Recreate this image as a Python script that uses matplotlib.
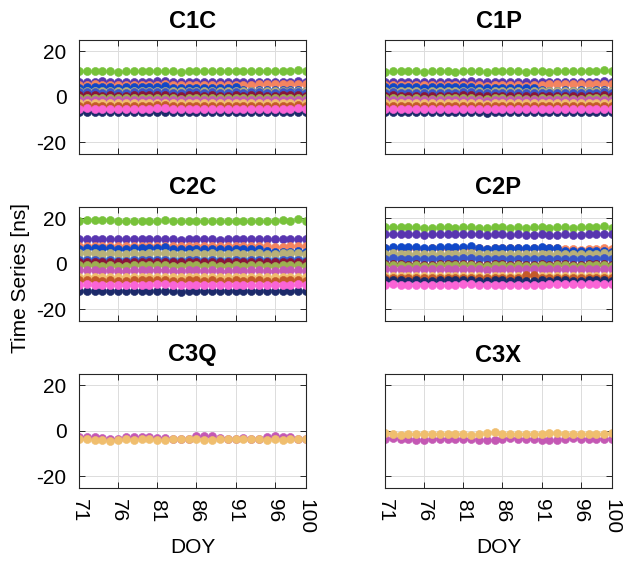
import matplotlib
matplotlib.use("Agg")
import matplotlib.pyplot as plt

plt.rcParams["font.family"] = ["Liberation Sans", "DejaVu Sans"]
plt.rcParams["axes.unicode_minus"] = False

doy = list(range(71, 101))
panel_titles = ["C1C", "C1P", "C2C", "C2P", "C3Q", "C3X"]
x_ticks = [71, 76, 81, 86, 91, 96, 100]
y_ticks = [-20, 0, 20]

# satellite colours, in drawing order
sat_colors = ["#77C23A", "#5835B0", "#F4845F", "#1048C8", "#5AA8E6", "#B8B078",
              "#3A55C8", "#8A1538", "#9DB050", "#C458B4", "#F0BE6E", "#C45A2A",
              "#1C2A6A", "#FA64D6"]

c1c = [
    [11.2,11.4,11.5,11.5,11.4,11.1,11.2,11.3,11.3,11.2,11.4,11.5,11.2,11.1,11.3,11.4,11.2,11.3,11.2,11.3,11.4,11.2,11.3,11.4,11.2,11.3,11.5,11.4,11.8,11.2],
    [6.6,6.7,6.7,6.8,6.7,6.5,6.6,6.7,6.6,6.6,6.8,6.9,6.6,6.5,6.7,6.7,6.6,6.7,6.5,6.6,6.7,6.6,6.6,6.7,6.6,6.6,6.7,6.7,6.9,6.7],
    [5.2,5.3,5.4,5.3,5.3,5.1,5.2,5.3,5.2,5.2,5.3,5.4,5.2,5.0,5.2,5.2,5.1,5.2,5.0,5.1,5.2,5.1,5.2,5.5,5.6,5.5,5.6,5.7,5.8,5.6],
    [4.0,4.4,4.3,4.3,4.3,4.0,4.1,4.3,4.3,4.3,4.4,4.6,3.8,3.7,3.9,3.9,3.8,4.0,3.9,4.0,4.1,3.0,2.7,2.8,2.8,2.9,2.8,2.9,3.1,2.6],
    [1.1,1.2,1.1,1.0,1.1,1.0,1.0,1.1,1.0,1.1,1.2,1.2,1.0,0.9,1.1,1.1,1.0,1.1,1.0,1.0,1.1,1.0,1.1,1.1,1.0,1.0,1.1,1.1,1.2,1.0],
    [2.6,2.7,2.6,2.5,2.6,2.4,2.5,2.6,2.5,2.6,2.7,2.7,2.5,2.4,2.5,2.6,2.5,2.6,2.4,2.5,2.6,2.5,2.5,2.6,2.5,2.5,2.6,2.6,2.7,2.5],
    [1.9,2.0,1.9,1.8,1.9,1.8,1.8,1.9,1.9,1.9,2.0,2.0,1.8,1.7,1.9,1.9,1.8,1.9,1.8,1.8,1.9,1.8,1.9,1.9,1.8,1.8,1.9,1.9,2.0,1.8],
    [0.6,0.7,0.6,0.5,0.6,0.5,0.5,0.6,0.6,0.6,0.7,0.7,0.5,0.4,0.6,0.6,0.5,0.6,0.5,0.5,0.6,0.5,0.6,0.6,0.5,0.5,0.6,0.6,0.7,0.5],
    [-0.6,-0.5,-0.6,-0.7,-0.6,-0.7,-0.7,-0.6,-0.6,-0.6,-0.5,-0.5,-0.7,-0.8,-0.6,-0.6,-0.7,-0.6,-0.7,-0.7,-0.6,-0.7,-0.6,-0.6,-0.7,-0.7,-0.6,-0.6,-0.5,-0.7],
    [-1.4,-1.3,-1.4,-1.5,-1.4,-1.5,-1.5,-1.4,-1.4,-1.4,-1.3,-1.3,-1.5,-1.6,-1.4,-1.4,-1.5,-1.4,-1.5,-1.5,-1.4,-1.5,-1.4,-1.4,-1.5,-1.5,-1.4,-1.4,-1.3,-1.5],
    [-2.7,-2.6,-2.7,-2.8,-2.7,-2.8,-2.8,-2.7,-2.7,-2.7,-2.6,-2.6,-2.8,-2.9,-2.7,-2.7,-2.8,-2.7,-2.8,-2.8,-2.7,-2.8,-2.7,-2.7,-2.8,-2.8,-2.7,-2.7,-2.6,-2.8],
    [-3.9,-3.8,-3.9,-4.0,-3.9,-4.0,-4.0,-3.9,-3.9,-3.9,-3.8,-3.8,-4.0,-4.1,-3.9,-3.9,-4.0,-3.9,-4.0,-4.0,-3.9,-4.0,-3.9,-3.9,-4.0,-4.0,-3.9,-3.9,-3.8,-4.0],
    [-6.6,-6.5,-6.6,-6.7,-6.6,-6.7,-6.7,-6.6,-6.6,-6.6,-6.5,-6.5,-6.8,-6.9,-6.6,-6.6,-6.8,-6.6,-6.7,-6.7,-6.6,-6.7,-6.6,-6.6,-6.7,-6.7,-6.6,-6.6,-6.5,-6.7],
    [-5.2,-5.1,-5.2,-5.3,-5.2,-5.3,-5.3,-5.2,-5.2,-5.2,-5.1,-5.1,-5.3,-5.4,-5.2,-5.2,-5.3,-5.2,-5.3,-5.3,-5.2,-5.3,-5.2,-5.2,-5.3,-5.3,-5.2,-5.2,-5.1,-5.3],
]

c1p = [
    [11.1,11.3,11.4,11.4,11.3,11.0,11.2,11.3,11.2,11.1,11.3,11.4,11.2,11.1,11.2,11.3,11.2,11.2,11.1,11.2,11.3,11.1,11.2,11.3,11.2,11.2,11.4,11.3,11.6,11.2],
    [6.5,6.6,6.6,6.7,6.6,6.4,6.5,6.6,6.5,6.5,6.7,6.8,6.5,6.4,6.6,6.6,6.5,6.6,6.4,6.5,6.6,6.5,6.5,6.6,6.5,6.5,6.6,6.6,6.8,6.6],
    [5.1,5.2,5.3,5.2,5.2,5.0,5.1,5.2,5.1,5.1,5.2,5.3,5.1,4.9,5.1,5.1,5.0,5.1,4.9,5.0,5.1,5.5,5.6,5.5,5.6,5.6,5.5,5.6,5.7,5.5],
    [4.1,4.3,4.3,4.2,4.2,3.9,4.1,4.2,4.2,4.2,4.3,4.5,3.9,3.8,3.9,4.0,3.9,4.0,3.9,4.0,3.0,2.7,2.6,2.8,2.7,2.8,2.7,2.8,3.0,2.6],
    [1.0,1.1,1.0,0.9,1.0,0.9,0.9,1.0,0.9,1.0,1.1,1.1,0.9,0.8,1.0,1.0,0.9,1.0,0.9,0.9,1.0,0.9,1.0,1.0,0.9,0.9,1.0,1.0,1.1,0.9],
    [2.5,2.6,2.5,2.4,2.5,2.3,2.4,2.5,2.4,2.5,2.6,2.6,2.4,2.3,2.4,2.5,2.4,2.5,2.3,2.4,2.5,2.4,2.4,2.5,2.4,2.4,2.5,2.5,2.6,2.4],
    [1.8,1.9,1.8,1.7,1.8,1.7,1.7,1.8,1.8,1.8,1.9,1.9,1.7,1.6,1.8,1.8,1.7,1.8,1.7,1.7,1.8,1.7,1.8,1.8,1.7,1.7,1.8,1.8,1.9,1.7],
    [0.5,0.6,0.5,0.4,0.5,0.4,0.4,0.5,0.5,0.5,0.6,0.6,0.4,0.3,0.5,0.5,0.4,0.5,0.4,0.4,0.5,0.4,0.5,0.5,0.4,0.4,0.5,0.5,0.6,0.4],
    [-0.7,-0.6,-0.7,-0.8,-0.7,-0.8,-0.8,-0.7,-0.7,-0.7,-0.6,-0.6,-0.8,-0.9,-0.7,-0.7,-0.8,-0.7,-0.8,-0.8,-0.7,-0.8,-0.7,-0.7,-0.8,-0.8,-0.7,-0.7,-0.6,-0.8],
    [-1.5,-1.4,-1.5,-1.6,-1.5,-1.6,-1.6,-1.5,-1.5,-1.5,-1.4,-1.4,-1.6,-1.7,-1.5,-1.5,-1.6,-1.5,-1.6,-1.6,-1.5,-1.6,-1.5,-1.5,-1.6,-1.6,-1.5,-1.5,-1.4,-1.6],
    [-2.8,-2.7,-2.8,-2.9,-2.8,-2.9,-2.9,-2.8,-2.8,-2.8,-2.7,-2.7,-2.9,-3.0,-2.8,-2.8,-2.9,-2.8,-2.9,-2.9,-2.8,-2.9,-2.8,-2.8,-2.9,-2.9,-2.8,-2.8,-2.7,-2.9],
    [-4.0,-3.9,-4.0,-4.1,-4.0,-4.1,-4.1,-4.0,-4.0,-4.0,-3.9,-3.9,-4.1,-4.2,-4.0,-4.0,-4.1,-4.0,-4.1,-4.1,-4.0,-4.1,-4.0,-4.0,-4.1,-4.1,-4.0,-4.0,-3.9,-4.1],
    [-6.7,-6.6,-6.7,-6.8,-6.7,-6.8,-6.8,-6.7,-6.7,-6.7,-6.6,-6.6,-6.9,-7.0,-6.7,-6.7,-6.9,-6.7,-6.8,-6.8,-6.7,-6.8,-6.7,-6.7,-6.8,-6.8,-6.7,-6.7,-6.6,-6.8],
    [-5.3,-5.2,-5.3,-5.4,-5.3,-5.4,-5.4,-5.3,-5.3,-5.3,-5.2,-5.2,-5.4,-5.5,-5.3,-5.3,-5.4,-5.3,-5.4,-5.4,-5.3,-5.4,-5.3,-5.3,-5.4,-5.4,-5.3,-5.3,-5.2,-5.4],
]

c2c = [
    [18.9,19.1,19.2,19.2,19.1,18.7,18.8,18.9,18.9,18.8,19.0,19.1,18.8,18.7,18.9,19.0,18.8,18.9,18.8,18.9,19.0,18.8,18.9,19.0,18.8,18.9,19.1,19.0,19.5,18.8],
    [10.8,10.9,10.9,11.0,10.9,10.7,10.8,10.9,10.8,10.8,11.0,11.1,10.8,10.6,10.8,10.8,10.7,10.8,10.6,10.7,10.9,10.7,10.7,10.8,10.7,10.7,10.8,10.8,11.0,10.8],
    [7.8,7.9,8.0,7.9,7.9,7.6,7.7,7.8,7.7,7.7,7.9,8.0,7.8,7.6,7.8,7.8,7.7,7.8,7.6,7.7,7.8,7.7,7.8,8.0,7.6,7.4,7.5,7.6,8.0,7.8],
    [6.6,7.1,7.0,7.0,7.1,6.3,6.7,6.8,6.9,6.9,7.0,7.3,6.4,6.3,6.5,6.5,6.4,6.6,6.4,6.5,6.6,6.4,6.5,6.6,5.5,5.2,5.3,5.3,5.4,5.0],
    [2.2,2.3,2.2,2.1,2.2,2.1,2.1,2.2,2.1,2.2,2.3,2.3,2.1,2.0,2.2,2.2,2.1,2.2,2.1,2.1,2.2,2.1,2.2,2.2,2.1,2.1,2.2,2.2,2.3,2.1],
    [4.6,4.7,4.6,4.5,4.6,4.4,4.5,4.6,4.5,4.6,4.7,4.7,4.5,4.4,4.5,4.6,4.5,4.6,4.4,4.5,4.6,4.5,4.5,4.6,4.5,4.5,4.6,4.6,4.7,4.5],
    [1.5,1.6,1.5,1.4,1.5,1.4,1.4,1.5,1.5,1.5,1.6,1.6,1.4,1.3,1.5,1.5,1.4,1.5,1.4,1.4,1.5,1.4,1.5,1.5,1.4,1.4,1.5,1.5,1.6,1.4],
    [0.8,0.9,0.8,0.7,0.8,0.7,0.7,0.8,0.8,0.8,0.9,0.9,0.7,0.6,0.8,0.8,0.7,0.8,0.7,0.7,0.8,0.7,0.8,0.8,0.7,0.7,0.8,0.8,0.9,0.7],
    [-0.7,-0.6,-0.7,-0.8,-0.7,-0.8,-0.8,-0.7,-0.7,-0.7,-0.6,-0.6,-0.8,-0.9,-0.7,-0.7,-0.8,-0.7,-0.8,-0.8,-0.7,-0.8,-0.7,-0.7,-0.8,-0.8,-0.7,-0.7,-0.6,-0.8],
    [-2.9,-2.8,-2.9,-3.0,-2.9,-3.0,-3.0,-2.9,-2.9,-2.9,-2.8,-2.8,-3.0,-3.1,-2.9,-2.9,-3.0,-2.9,-3.0,-3.0,-2.9,-3.0,-2.9,-2.9,-3.0,-3.0,-2.9,-2.9,-2.8,-3.0],
    [-5.8,-5.7,-5.8,-5.9,-5.8,-5.9,-5.9,-5.8,-5.8,-5.8,-5.7,-5.7,-5.9,-6.0,-5.8,-5.8,-5.9,-5.8,-5.9,-5.9,-5.8,-5.9,-5.8,-5.8,-5.9,-5.9,-5.8,-5.8,-5.7,-5.9],
    [-7.3,-7.2,-7.3,-7.4,-7.3,-7.4,-7.4,-7.3,-7.3,-7.3,-7.2,-7.2,-7.4,-7.5,-7.3,-7.3,-7.4,-7.3,-7.4,-7.4,-7.3,-7.4,-7.3,-7.3,-7.4,-7.4,-7.3,-7.3,-7.2,-7.4],
    [-11.9,-11.8,-11.9,-12.0,-11.9,-12.1,-12.0,-11.9,-11.9,-11.9,-11.8,-11.8,-12.1,-12.3,-11.9,-11.9,-12.1,-11.9,-12.0,-12.0,-11.9,-12.0,-11.9,-11.9,-12.1,-12.0,-11.9,-11.9,-11.8,-12.0],
    [-9.2,-9.1,-9.2,-9.3,-9.2,-9.3,-9.3,-9.2,-9.2,-9.2,-9.1,-9.1,-9.3,-9.4,-9.2,-9.2,-9.3,-9.2,-9.3,-9.3,-9.2,-9.3,-9.2,-9.2,-9.3,-9.3,-9.2,-9.2,-9.1,-9.3],
]

c2p = [
    [16.0,16.2,16.3,16.3,16.2,15.8,15.9,16.0,16.0,15.9,16.1,16.2,15.9,15.8,16.0,16.1,15.9,16.0,15.9,16.0,16.1,15.9,16.0,16.1,15.9,16.0,16.2,16.1,16.5,15.9],
    [12.9,13.0,13.0,13.1,13.0,12.8,12.9,13.0,12.9,12.9,13.1,13.2,12.9,12.7,12.9,12.9,12.8,12.9,12.7,12.8,13.0,12.8,12.8,12.9,12.8,12.8,12.9,12.9,13.1,12.9],
    [6.9,7.0,7.1,7.0,7.0,6.7,6.8,6.9,6.8,6.8,7.0,7.1,6.9,6.7,6.9,6.9,6.8,6.9,6.7,6.8,6.9,6.8,7.0,6.4,6.3,6.2,6.3,6.4,6.8,6.6],
    [7.1,7.4,7.4,7.3,7.4,6.9,7.0,7.2,7.3,7.4,7.5,7.6,6.8,6.7,6.9,7.0,6.9,7.1,7.0,7.1,7.2,6.8,6.9,5.6,5.4,5.5,5.6,5.6,5.8,5.2],
    [3.0,3.1,3.0,2.9,3.0,2.9,2.9,3.0,2.9,3.0,3.1,3.1,2.9,2.8,3.0,3.0,2.9,3.0,2.9,2.9,3.0,2.9,3.0,3.0,2.9,2.9,3.0,3.0,3.1,2.9],
    [4.5,4.6,4.5,4.4,4.5,4.3,4.4,4.5,4.4,4.5,4.6,4.6,4.4,4.3,4.4,4.5,4.4,4.5,4.3,4.4,4.5,4.4,4.4,4.5,4.4,4.4,4.5,4.5,4.6,4.4],
    [2.3,2.4,2.3,2.2,2.3,2.2,2.2,2.3,2.3,2.3,2.4,2.4,2.2,2.1,2.3,2.3,2.2,2.3,2.2,2.2,2.3,2.2,2.3,2.3,2.2,2.2,2.3,2.3,2.4,2.2],
    [-0.3,-0.2,-0.3,-0.4,-0.3,-0.4,-0.4,-0.3,-0.3,-0.3,-0.2,-0.2,-0.4,-0.5,-0.3,-0.3,-0.4,-0.3,-0.4,-0.4,-0.3,-0.4,-0.3,-0.3,-0.4,-0.4,-0.3,-0.3,-0.2,-0.4],
    [-0.7,-0.6,-0.7,-0.8,-0.7,-0.8,-0.8,-0.7,-0.7,-0.7,-0.6,-0.6,-0.8,-0.9,-0.7,-0.7,-0.8,-0.7,-0.8,-0.8,-0.7,-0.8,-0.7,-0.7,-0.8,-0.8,-0.7,-0.7,-0.6,-0.8],
    [-2.4,-2.3,-2.4,-2.5,-2.4,-2.5,-2.5,-2.4,-2.4,-2.4,-2.3,-2.3,-2.5,-2.6,-2.4,-2.4,-2.5,-2.4,-2.5,-2.5,-2.4,-2.5,-2.4,-2.4,-2.5,-2.5,-2.4,-2.4,-2.3,-2.5],
    [-5.5,-5.4,-5.5,-5.6,-5.5,-5.6,-5.6,-5.5,-5.5,-5.5,-5.4,-5.4,-5.6,-5.7,-5.5,-5.5,-5.6,-5.5,-5.6,-5.6,-5.5,-5.6,-5.5,-5.5,-5.6,-5.6,-5.5,-5.5,-5.4,-5.6],
    [-6.2,-6.1,-6.2,-6.3,-6.2,-6.3,-6.3,-6.2,-6.2,-6.2,-6.1,-6.1,-6.3,-6.4,-6.2,-6.2,-6.3,-6.2,-5.0,-5.1,-6.2,-6.3,-6.2,-6.2,-6.3,-6.3,-6.2,-6.2,-6.1,-6.3],
    [-7.3,-7.2,-7.3,-7.4,-7.3,-7.4,-7.4,-7.3,-7.3,-7.3,-7.2,-7.2,-7.4,-7.5,-7.3,-7.3,-7.4,-7.3,-7.4,-7.4,-7.3,-7.4,-7.3,-7.3,-7.4,-7.4,-7.3,-7.3,-7.2,-7.4],
    [-9.2,-9.1,-9.2,-9.3,-9.2,-9.3,-9.3,-9.2,-9.2,-9.2,-9.1,-9.1,-9.3,-9.4,-9.2,-9.2,-9.3,-9.2,-9.3,-9.3,-9.2,-8.8,-8.9,-9.0,-9.1,-9.1,-9.0,-9.0,-8.9,-9.1],
]

c3q_magenta = [-2.6,-2.7,-2.8,-3.0,-3.6,-3.8,-2.9,-2.8,-2.8,-2.6,-3.4,-3.2,-3.5,-3.8,-3.7,-2.5,-2.3,-2.5,-3.2,-3.6,-3.6,-3.4,-3.6,-3.7,-2.6,-2.5,-2.7,-2.8,-3.6,-3.7]
c3q_tan = [-3.7,-3.8,-4.0,-4.1,-4.3,-4.0,-3.8,-3.9,-3.8,-3.7,-4.0,-4.0,-3.8,-3.7,-3.6,-3.8,-4.0,-3.9,-3.7,-3.7,-3.8,-3.7,-3.6,-3.7,-3.9,-3.8,-3.9,-3.8,-3.7,-3.7]
c3x_tan = [-1.2,-1.4,-1.7,-1.6,-1.5,-1.3,-1.4,-1.4,-1.5,-1.5,-1.6,-1.7,-1.3,-0.9,-0.7,-1.5,-1.5,-1.6,-1.6,-1.5,-1.3,-0.9,-0.9,-1.4,-1.4,-1.5,-1.6,-1.5,-1.4,-0.9]
c3x_magenta = [-3.5,-3.2,-3.6,-3.8,-3.9,-4.0,-3.8,-3.7,-3.6,-3.6,-3.8,-3.7,-4.0,-4.2,-4.2,-3.5,-3.4,-3.6,-3.7,-3.8,-3.9,-3.9,-4.0,-3.5,-3.3,-3.5,-3.6,-3.5,-3.5,-3.8]

MAGENTA = "#C458B4"
TAN = "#F0BE6E"

panel_series = [
    list(zip(sat_colors, c1c)),
    list(zip(sat_colors, c1p)),
    list(zip(sat_colors, c2c)),
    list(zip(sat_colors, c2p)),
    [(MAGENTA, c3q_magenta), (TAN, c3q_tan)],
    [(MAGENTA, c3x_magenta), (TAN, c3x_tan)],
]

W, H = 627, 562
fig = plt.figure(figsize=(W / 100, H / 100), dpi=100)

col_left = [79, 385]
col_width = 227
row_top = [40, 207, 374]
row_height = 113.5

axis_grey = "#262626"
for i, (title, series) in enumerate(zip(panel_titles, panel_series)):
    r, c = divmod(i, 2)
    x0 = col_left[c] / W
    y0 = 1 - (row_top[r] + row_height) / H
    ax = fig.add_axes([x0, y0, col_width / W, row_height / H])
    for color, vals in series:
        ax.plot(doy, vals, linestyle="none", marker="o", markersize=5.8,
                markerfacecolor=color, markeredgecolor=color, markeredgewidth=0.4)
    ax.set_xlim(71, 100)
    ax.set_ylim(-25, 25)
    ax.set_xticks(x_ticks)
    ax.set_yticks(y_ticks)
    ax.grid(True, color="#DCDCDC", linewidth=0.7)
    ax.set_axisbelow(True)
    ax.tick_params(direction="in", length=4, width=0.7, colors=axis_grey,
                   labelsize=15, labelcolor="black", top=True, right=True)
    ax.tick_params(axis="y", pad=9)
    ax.tick_params(axis="x", pad=8)
    for s in ax.spines.values():
        s.set_color(axis_grey)
        s.set_linewidth(0.8)
    ax.set_title(title, fontsize=17, fontweight="bold", pad=9)
    if r < 2:
        ax.set_xticklabels([])
    else:
        ax.set_xticklabels([str(t) for t in x_ticks], rotation=-90)
        ax.set_xlabel("DOY", fontsize=15, labelpad=3)
    if c == 1:
        ax.set_yticklabels([])

fig.text(21 / W, 1 - 278 / H, "Time Series [ns]", rotation=90, fontsize=15,
         ha="center", va="center")

fig.savefig("out.png", dpi=100)
